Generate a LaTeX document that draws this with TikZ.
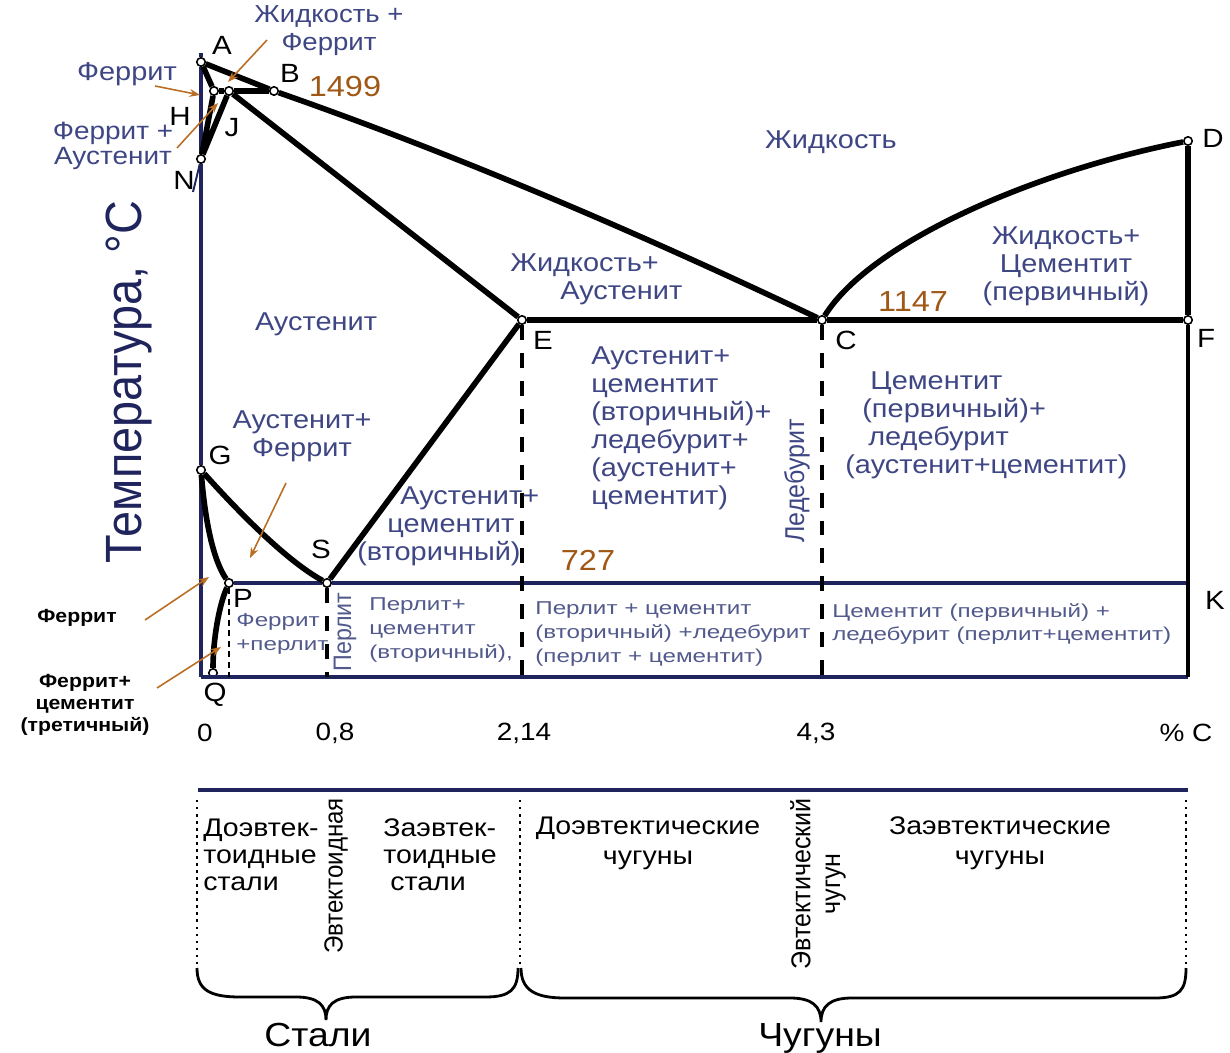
\documentclass[tikz,border=0pt]{standalone}
\usepackage{fontspec}
\setmainfont[FakeStretch=1.12]{Liberation Sans}
\newfontfamily\vertfont[FakeStretch=0.92]{Liberation Sans}
\newfontfamily\widefont[FakeStretch=1.3]{Liberation Sans}
\usetikzlibrary{arrows.meta}
\definecolor{navy}{RGB}{32,36,92}
\definecolor{labblue}{RGB}{62,70,132}
\definecolor{lowblue}{RGB}{82,90,140}
\definecolor{brn}{RGB}{160,88,22}
\definecolor{ptrcol}{RGB}{185,110,35}
\tikzset{
	pt/.style={circle,draw=black,fill=white,line width=0.9pt,inner sep=0pt,minimum size=4.8pt},
	phaseline/.style={line width=3.2pt,line join=round},
	axisline/.style={line width=2pt,draw=navy},
	eutline/.style={line width=2.3pt,dash pattern=on 8.5pt off 7.4pt},
	lbl/.style={text=labblue,font=\fontsize{14.7}{15.9}\selectfont,align=center,inner sep=0pt},
	lowtxt/.style={text=lowblue,font=\widefont\fontsize{10.6}{13.6}\selectfont,align=left,inner sep=0pt,anchor=west},
	vlbl/.style={rotate=90,inner sep=0pt},
	letter/.style={font=\fontsize{15}{16}\selectfont,inner sep=0pt},
	tempval/.style={text=brn,font=\fontsize{16.5}{17}\selectfont,inner sep=0pt},
	axnum/.style={font=\fontsize{14.2}{15}\selectfont,inner sep=0pt},
	sidetxt/.style={font=\bfseries\fontsize{10.8}{12.5}\selectfont,align=center,inner sep=0pt},
	classtxt/.style={font=\fontsize{14.5}{15.3}\selectfont,inner sep=0pt},
	grouptxt/.style={font=\fontsize{19}{20}\selectfont,inner sep=0pt},
	ptr/.style={-{Stealth[length=6pt,width=4.5pt]},draw=ptrcol,line width=0.9pt},
}
\begin{document}
\begin{tikzpicture}[x=0.02cm,y=-0.02cm]
	\useasboundingbox (0,0) rectangle (1230,1053);
	\foreach \p/\x/\y in {A/201/62,H/214/91,J/229/91,B/274/91,N/201/159,D/1188/141,E/522/320,C/822/320,F/1188/320,G/201/470,S/327/583,P/229/583,Q/213/673}
		\node[pt] (\p) at (\x,\y) {};
	\coordinate (top) at (201,53);
	\coordinate (O) at (201,677);
	\coordinate (Kc) at (1188,583);
	\coordinate (Fb) at (1188,677);
	\coordinate (Sb) at (327,677);
	\coordinate (Eb) at (522,677);
	\coordinate (Cb) at (822,677);
	\coordinate (Pb) at (229,677);
	\coordinate (Nt) at (193,192);
	
	\draw[axisline] (top)--(A) (A)--(N) (N)--(G) (G)--(O);
	\draw[axisline,line width=2.4pt] (O)--(Fb);
	\draw[axisline,line width=2.6pt] (P)--(S) (S)--(Kc);
	\draw[line width=2.4pt] (F)--(Fb);
	\draw[navy,line width=1.1pt] (N)--(Nt);
	
	\draw[phaseline] (A)--(B);
	\draw[phaseline] (A)--(H);
	\draw[phaseline] (H)--(J) (J)--(B);
	\draw[phaseline] (H)--(N) (J)--(N);
	\draw[phaseline] (J)--(E);
	\draw[phaseline] (B) .. controls (457,155) and (639,233) .. (C);
	\draw[phaseline] (C) .. controls (872,240) and (1040,170) .. (D);
	\draw[phaseline] (E)--(C) (C)--(F) (D)--(F);
	\draw[phaseline] (G) .. controls (235,508) and (285,560) .. (S);
	\draw[phaseline] (G) .. controls (205,520) and (213,560) .. (P);
	\draw[phaseline] (P) .. controls (219,605) and (213,640) .. (Q);
	\draw[phaseline] (S)--(E);
	\draw[eutline] (S)--(Sb) (E)--(Eb) (C)--(Cb);
	\draw[line width=0.9pt,dash pattern=on 3.5pt off 2.5pt] (P)--(Pb);
	
	\foreach \p/\x/\y in {A/222/45,B/290/73,H/180/116,J/232/128,N/184/180,D/1213/138,E/543/340,C/846/340,F/1206/338,G/220/455,S/321/549,P/243/598,Q/215/695,K/1215/600}
		\node[letter] (l\p) at (\x,\y) {\p};
	\node[tempval] (t1) at (345,87) {1499};
	\node[tempval] (t2) at (913,302) {1147};
	\node[tempval] (t3) at (588,560) {727};
	
	\node[lbl,font=\fontsize{14}{15.9}\selectfont] (lLF) at (329,31) {Жидкость +\\Феррит};
	\node[lbl] (lF1) at (127,74) {Феррит};
	\node[lbl,font=\fontsize{14.2}{11.3}\selectfont] (lFA) at (113,146) {Феррит +\\Аустенит};
	\node[lbl] (lL) at (831,142) {Жидкость};
	\node[lbl] (lLC) at (1066,266) {Жидкость+\\Цементит\\(первичный)};
	\node[lbl,align=left,anchor=west] (lLA) at (510,279) {Жидкость+\\\hspace*{1cm}Аустенит};
	\node[lbl] (lAus) at (316,324) {Аустенит};
	\node[lbl,align=left,anchor=west] (lACL) at (591,428) {Аустенит+\\цементит\\(вторичный)+\\ледебурит+\\(аустенит+\\цементит)};
	\node[lbl,align=left,anchor=west] (lCL) at (845,425) {\hspace*{0.5cm}Цементит\\\hspace*{0.34cm}(первичный)+\\\hspace*{0.46cm}ледебурит\\(аустенит+цементит)};
	\node[lbl,vlbl,font=\vertfont\fontsize{15.5}{16}\selectfont] (lLed) at (797,481) {Ледебурит};
	\node[lbl] (lAF) at (302,436) {Аустенит+\\Феррит};
	\node[lbl,align=left,anchor=west] (lAC) at (357,526) {\hspace*{0.86cm}Аустенит+\\\hspace*{0.6cm}цементит\\(вторичный)};
	\node[lowtxt] (lFP) at (236,634) {Феррит\\+перлит};
	\node[lowtxt,vlbl,anchor=center,font=\vertfont\fontsize{14.4}{15}\selectfont] (lPer) at (345,632) {Перлит};
	\node[lowtxt] (lPC) at (369,630) {Перлит+\\цементит\\(вторичный),};
	\node[lowtxt] (lPCL) at (535,634) {Перлит + цементит\\(вторичный) +ледебурит\\(перлит + цементит)};
	\node[lowtxt] (lCPL) at (832,624) {Цементит (первичный) +\\ледебурит (перлит+цементит)};
	\node[sidetxt] (lF2) at (77,618) {Феррит};
	\node[sidetxt] (lFC) at (85,705) {Феррит+\\цементит\\(третичный)};
	\node[vlbl,text=navy,font=\vertfont\fontsize{29}{30}\selectfont] (ylab) at (129,382) {Температура, °C};
	
	\foreach \x/\y/\u/\v [count=\i] in {267/40/228/82,155/86/200/95,177/148/218/103,286/483/250/558,145/620/209/577,157/688/221/647}{
		\coordinate (ps\i) at (\x,\y);
		\coordinate (pe\i) at (\u,\v);
		\draw[ptr] (ps\i)--(pe\i);
	}
	
	\node[axnum] (x0) at (205,733) {0};
	\node[axnum] (x1) at (335,733) {0,8};
	\node[axnum] (x2) at (524,733) {2,14};
	\node[axnum] (x3) at (816,733) {4,3};
	\node[axnum] (x4) at (1186,733) {\% C};
	
	\draw[navy,line width=2.8pt] (198,790)--(1188,790);
	\foreach \x in {197,520,1186}
		\draw[line width=1.1pt,dash pattern=on 1.4pt off 2.6pt] (\x,800)--(\x,965);
	\node[classtxt,align=left,anchor=west] (cs1) at (203,855) {Доэвтек-\\тоидные\\стали};
	\node[classtxt,vlbl,font=\vertfont\fontsize{14.9}{16}\selectfont] (cs2) at (336,876) {Эвтектоидная};
	\node[classtxt,align=left,anchor=west] (cs3) at (383,855) {Заэвтек-\\тоидные\\\hspace*{0.14cm}стали};
	\node[classtxt,align=center,font=\fontsize{14.5}{17}\selectfont] (ci1) at (648,843) {Доэвтектические\\чугуны};
	\node[classtxt,vlbl,align=center,font=\vertfont\fontsize{15.5}{17}\selectfont] (ci2) at (818,884) {Эвтектический\\чугун};
	\node[classtxt,align=center,font=\fontsize{14.5}{17}\selectfont] (ci3) at (1000,843) {Заэвтектические\\чугуны};
	\draw[line width=1.6pt] (197,968) .. controls (197,990) and (210,997) .. (240,997) -- (296,997) .. controls (318,997) and (326,1005) .. (326,1020) .. controls (326,1005) and (334,997) .. (356,997) -- (485,997) .. controls (510,997) and (518,990) .. (518,968);
	\draw[line width=1.6pt] (521,968) .. controls (521,990) and (535,998) .. (565,998) -- (790,998) .. controls (812,998) and (821,1006) .. (821,1022) .. controls (821,1006) and (830,998) .. (852,998) -- (1155,998) .. controls (1180,998) and (1186,990) .. (1186,968);
	\node[grouptxt] (gSt) at (318,1035) {Стали};
	\node[grouptxt] (gCh) at (820,1038) {Чугуны};
\end{tikzpicture}
\end{document}
